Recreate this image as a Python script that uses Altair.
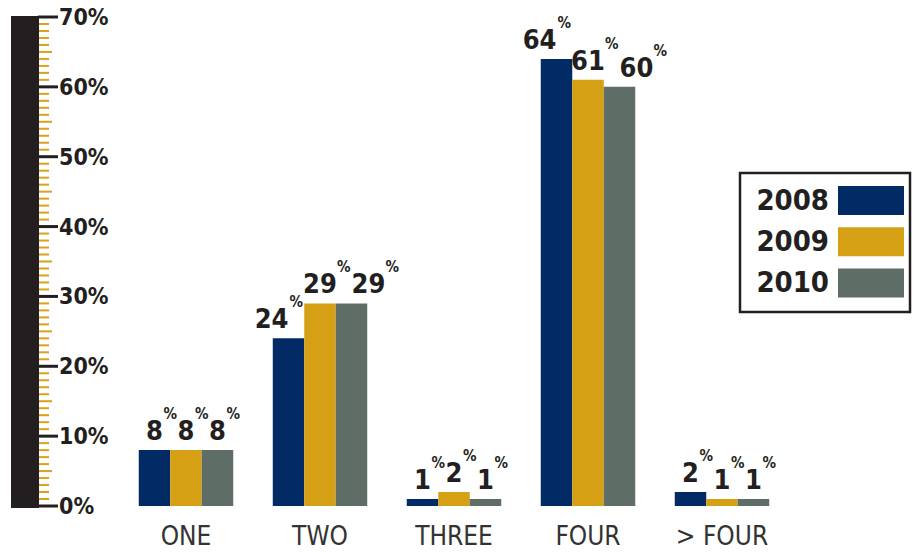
import altair as alt
import pandas as pd

# ---------------- data ----------------
categories = ["ONE", "TWO", "THREE", "FOUR", "> FOUR"]
years = ["2008", "2009", "2010"]
values_2008 = [8, 24, 1, 64, 2]
values_2009 = [8, 29, 2, 61, 1]
values_2010 = [8, 29, 1, 60, 1]
colors = ["#022b65", "#d6a014", "#5e6d66"]

major_ticks = [0, 10, 20, 30, 40, 50, 60, 70]
major_labels = ["0%", "10%", "20%", "30%", "40%", "50%", "60%", "70%"]
mid_ticks = [5, 15, 25, 35, 45, 55, 65]
minor_ticks = [v for v in range(1, 70) if v % 5 != 0]

# ---------------- styles ----------------
INK = "#231f20"
GOLD = "#d9a21b"
NUM_FONT = "DejaVu Sans Condensed"
CAT_FONT = "DejaVu Sans Condensed"

rows = []
for y, vals in zip(years, [values_2008, values_2009, values_2010]):
    for c, v in zip(categories, vals):
        rows.append({"category": c, "year": y, "value": v})
df = pd.DataFrame(rows)

y_scale = alt.Scale(domain=[0, 70], nice=False, zero=True)
color_scale = alt.Scale(domain=years, range=colors)

X = alt.X(
    "category:N",
    sort=categories,
    scale=alt.Scale(domain=categories, paddingInner=0.295, paddingOuter=0.1475),
    axis=alt.Axis(
        title=None, ticks=False, tickSize=0, domain=False, labelAngle=0,
        labelFont=CAT_FONT, labelFontSize=26, labelColor="#333333",
        labelPadding=17, labelFontWeight="normal",
    ),
)
XO = alt.XOffset("year:N", sort=years,
                 scale=alt.Scale(domain=years, paddingInner=0, paddingOuter=0))
Y = alt.Y("value:Q", scale=y_scale, axis=None)

base = alt.Chart(df).encode(x=X, xOffset=XO, y=Y)

bars = base.mark_bar(stroke=None).encode(
    color=alt.Color("year:N", scale=color_scale, legend=None)
)

label_specs = [
    ("datum.value < 10", "center", 9),
    ("datum.value >= 10 && datum.year == '2008'", "right", 1),
    ("datum.value >= 10 && datum.year == '2009'", "center", 17),
    ("datum.value >= 10 && datum.year == '2010'", "left", 34),
]
label_layers = []
for cond, al, pdx in label_specs:
    label_layers.append(
        base.transform_filter(cond).mark_text(
            align=al, baseline="alphabetic", dy=-10, font=NUM_FONT,
            fontSize=27, fontWeight="bold", color=INK,
        ).encode(text="value:Q")
    )
    label_layers.append(
        base.transform_filter(cond).mark_text(
            align="left", baseline="alphabetic", dx=pdx, dy=-31, font=NUM_FONT,
            fontSize=15, fontWeight="bold", color=INK,
        ).encode(text=alt.value("%"))
    )

# ---------------- ruler (left axis) ----------------
dummy = pd.DataFrame({"a": [0]})
ruler = alt.Chart(dummy).mark_rect(color=INK).encode(
    x=alt.value(-108), x2=alt.value(-80), y=alt.value(-1), y2=alt.value(491)
)
minor = alt.Chart(pd.DataFrame({"v": minor_ticks})).mark_rule(
    color=GOLD, strokeWidth=2
).encode(y=alt.Y("v:Q", scale=y_scale, axis=None), x=alt.value(-80), x2=alt.value(-70))
mid = alt.Chart(pd.DataFrame({"v": mid_ticks})).mark_rule(
    color=GOLD, strokeWidth=2
).encode(y=alt.Y("v:Q", scale=y_scale, axis=None), x=alt.value(-80), x2=alt.value(-67))
major_df = pd.DataFrame({"v": major_ticks, "lab": major_labels})
major = alt.Chart(major_df).mark_rule(color=INK, strokeWidth=3).encode(
    y=alt.Y("v:Q", scale=y_scale, axis=None), x=alt.value(-81), x2=alt.value(-61)
)
major_text = alt.Chart(major_df).mark_text(
    align="left", baseline="middle", dy=1, font=NUM_FONT, fontSize=23,
    fontWeight="bold", color=INK,
).encode(y=alt.Y("v:Q", scale=y_scale, axis=None), x=alt.value(-60), text="lab:N")

# ---------------- legend ----------------
legend_df = pd.DataFrame({"year": years})
leg_y = alt.Y("year:N", sort=years,
              scale=alt.Scale(domain=years, range=[183.5, 266], padding=0), axis=None)
legend_box = alt.Chart(dummy).mark_rect(fill="white", stroke=INK, strokeWidth=2.5).encode(
    x=alt.value(621), x2=alt.value(791), y=alt.value(156), y2=alt.value(295)
)
legend_swatch = alt.Chart(legend_df).mark_point(
    shape="M-1,-0.44H1V0.44H-1Z", size=4356, filled=True, opacity=1, strokeWidth=0
).encode(x=alt.value(752), y=leg_y,
         color=alt.Color("year:N", scale=color_scale, legend=None))
legend_text = alt.Chart(legend_df).mark_text(
    align="right", baseline="middle", font=NUM_FONT, fontSize=29,
    fontWeight="bold", color=INK,
).encode(x=alt.value(710), y=leg_y, text="year:N")

chart = alt.layer(
    ruler, minor, mid, major, major_text,
    bars, *label_layers,
    legend_box, legend_swatch, legend_text,
).resolve_scale(y="independent").properties(
    width=670, height=489,
    autosize=alt.AutoSizeParams(type="none"),
    padding={"left": 119, "top": 17, "right": 127, "bottom": 46},
    background="white",
).configure_view(stroke=None)

chart.save("out.html", embed_options={"renderer": "svg", "actions": False})
